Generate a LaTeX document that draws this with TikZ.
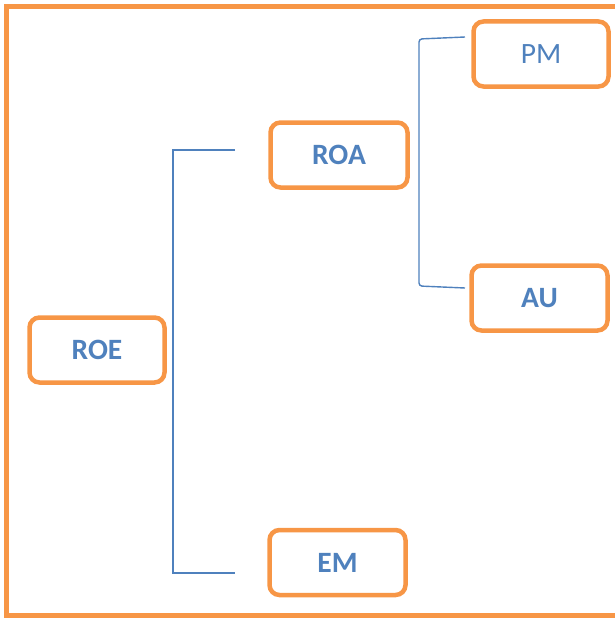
\documentclass[tikz,border=0pt]{standalone}
\usepackage{fontspec}
\setmainfont{Carlito}
\definecolor{orng}{HTML}{F79646}
\definecolor{blu}{HTML}{4F81BD}
\begin{document}
\begin{tikzpicture}[x=1pt,y=-1pt,
  box/.style={draw=orng,line width=4.5pt,rounded corners=10pt,fill=white,
    minimum width=#1,minimum height=65pt,inner sep=0pt,text=blu,
    font=\fontsize{29.5}{29.5}\selectfont\bfseries},
  box/.default=136pt,
  conn/.style={draw=blu,line width=1.4pt}]
\useasboundingbox (0,0) rectangle (615,618);
\begin{scope}
\clip (0,0) rectangle (615,618);
\draw[orng,line width=5pt] (630,7) -- (6.5,7) -- (6.5,615.5) -- (630,615.5);
\end{scope}
\node[box=135pt] (ROE) at (97,350) {ROE};
\node[box=137pt] (ROA) at (339,155) {ROA};
\node[box=136pt] (EM) at (337.5,562.5) {EM};
\node[box=135pt,font=\fontsize{29.5}{29.5}\selectfont] (PM) at (541,54) {PM};
\node[box=136pt] (AU) at (539.5,298) {AU};
\coordinate (a1) at (235,150);
\coordinate (a2) at (235,573);
\draw[conn] (a1) -- (173,150) -- (173,573) -- (a2);
\coordinate (b1) at (465,37);
\coordinate (b2) at (465,288);
\draw[conn,rounded corners=3pt] (b1) -- (419,39) -- (419,286) -- (b2);
\end{tikzpicture}
\end{document}
